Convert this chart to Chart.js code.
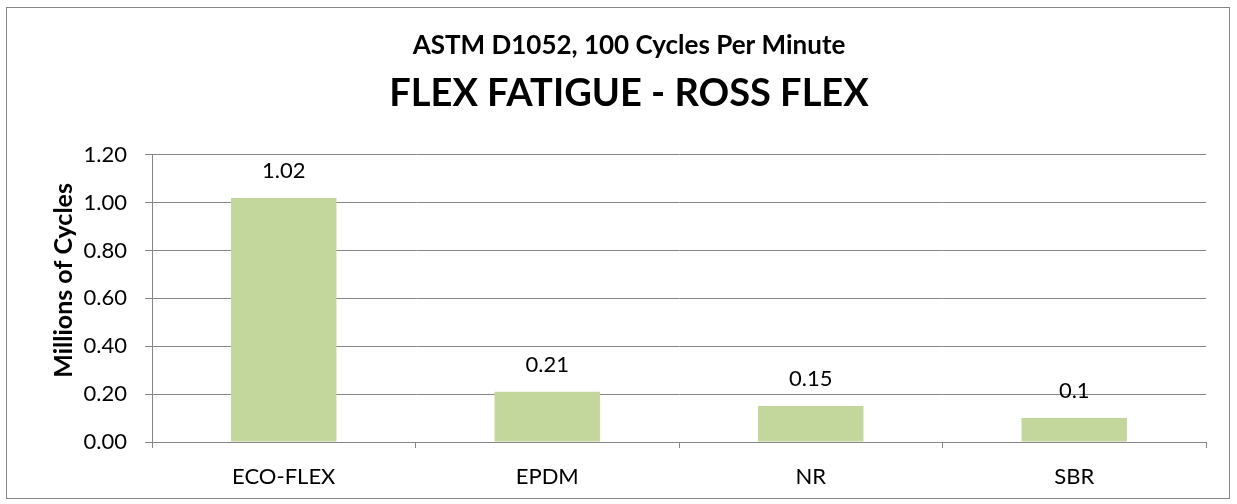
<!DOCTYPE html>
<html>
<head>
<meta charset="utf-8">
<script src="https://cdn.jsdelivr.net/npm/chart.js@4.4.1/dist/chart.umd.min.js"></script>
<style>
  html, body { margin: 0; padding: 0; background: #fff; }
  #frame {
    position: absolute; left: 6px; top: 7px;
    width: 1224px; height: 492px;
    border: 1px solid #868686;
    box-sizing: border-box;
  }
  #chartBox { position: absolute; left: 0; top: 0; right: 0; bottom: 0; }
</style>
</head>
<body>
<div id="frame"><div id="chartBox"><canvas id="flexChart"></canvas></div></div>
<script>
// Chart data
const categories = ["ECO-FLEX", "EPDM", "NR", "SBR"];
const cycleValues = [1.02, 0.21, 0.15, 0.1];
const valueLabels = ["1.02", "0.21", "0.15", "0.1"];
const yTicks = [0, 0.2, 0.4, 0.6, 0.8, 1.0, 1.2];
const yTitle = "Millions of Cycles";

const FONT = "Lato, 'Open Sans', sans-serif";
const GRID = "#868686";

/**
 * Draw the value above each bar
 */
const valueLabelPlugin = {
  id: "valueLabels",
  afterDatasetsDraw(chart) {
    const ctx = chart.ctx;
    const meta = chart.getDatasetMeta(0);
    ctx.save();
    ctx.font = "22px " + FONT;
    ctx.fillStyle = "#000";
    ctx.textAlign = "center";
    ctx.textBaseline = "alphabetic";
    meta.data.forEach((bar, i) => {
      ctx.fillText(valueLabels[i], bar.x, bar.y - 20);
    });
    ctx.restore();
  },
};

/**
 * Rotated y axis title, sitting a little above the plot's middle like Excel does
 */
const yTitlePlugin = {
  id: "yTitle",
  afterDraw(chart) {
    const ctx = chart.ctx;
    const area = chart.chartArea;
    const yScale = chart.scales.y;
    ctx.save();
    ctx.translate(yScale.left + 12, (area.top + area.bottom) / 2 - 18);
    ctx.rotate(-Math.PI / 2);
    ctx.font = "bold 25px " + FONT;
    ctx.fillStyle = "#000";
    ctx.textAlign = "center";
    ctx.textBaseline = "middle";
    ctx.fillText(yTitle, 0, 0);
    ctx.restore();
  },
};

new Chart(document.getElementById("flexChart").getContext("2d"), {
  type: "bar",
  data: {
    labels: categories,
    datasets: [
      {
        label: yTitle,
        data: cycleValues,
        backgroundColor: "#C3D69B",
        borderWidth: 0,
        barPercentage: 0.4,
        categoryPercentage: 1,
      },
    ],
  },
  options: {
    responsive: true,
    maintainAspectRatio: false,
    animation: false,
    layout: { padding: { left: 45, right: 23, top: 20, bottom: 0 } },
    plugins: {
      legend: { display: false },
      tooltip: { enabled: false },
      title: {
        display: true,
        text: "ASTM D1052, 100 Cycles Per Minute",
        color: "#000",
        font: { family: FONT, size: 26, weight: "bold" },
        padding: { top: 2, bottom: 5 },
      },
      subtitle: {
        display: true,
        text: "FLEX FATIGUE - ROSS FLEX",
        color: "#000",
        font: { family: FONT, size: 38, weight: "bold" },
        padding: { top: 5, bottom: 38 },
      },
    },
    scales: {
      x: {
        afterFit(scale) {
          scale.height = 56;
        },
        grid: {
          offset: true,
          drawOnChartArea: false,
          color: GRID,
          tickLength: 6,
        },
        border: { color: GRID },
        ticks: {
          color: "#000",
          font: { family: FONT, size: 22 },
          padding: 16,
        },
      },
      y: {
        min: 0,
        max: 1.2,
        afterBuildTicks(scale) {
          scale.ticks = yTicks.map((v) => ({ value: v }));
        },
        afterFit(scale) {
          scale.width = 100;
        },
        grid: { color: GRID, tickLength: 7 },
        border: { color: GRID },
        ticks: {
          color: "#000",
          font: { family: FONT, size: 22 },
          padding: 18,
          callback: (v) => Number(v).toFixed(2),
        },
      },
    },
  },
  plugins: [valueLabelPlugin, yTitlePlugin],
});
</script>
</body>
</html>
